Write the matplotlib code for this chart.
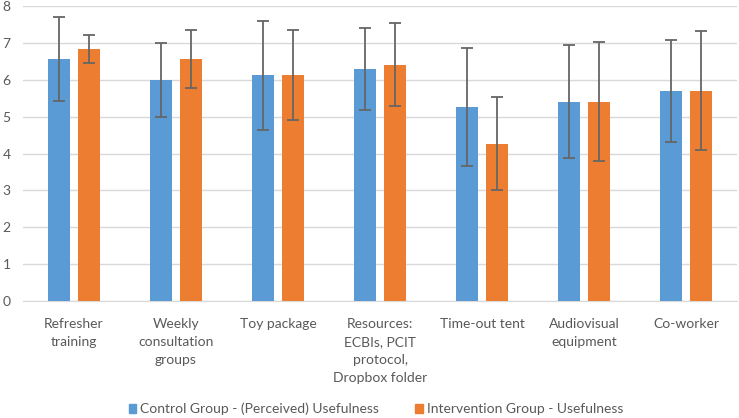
import numpy as np
import matplotlib.pyplot as plt
from matplotlib.patches import Patch

categories = ["Refresher\ntraining", "Weekly\nconsultation\ngroups", "Toy package",
              "Resources:\nECBIs, PCIT\nprotocol,\nDropbox folder", "Time-out tent",
              "Audiovisual\nequipment", "Co-worker"]
control_mean = [6.56, 6.00, 6.12, 6.28, 5.27, 5.41, 5.70]
control_err = [1.14, 1.00, 1.47, 1.11, 1.60, 1.52, 1.38]
interv_mean = [6.84, 6.56, 6.12, 6.41, 4.26, 5.41, 5.70]
interv_err = [0.38, 0.79, 1.22, 1.13, 1.26, 1.62, 1.61]
series_names = ["Control Group - (Perceived) Usefulness", "Intervention Group - Usefulness"]

blue = '#5B9BD5'
orange = '#ED7D31'
text_col = '#595959'

# Lato ~ Calibri metrics
plt.rcParams['font.family'] = ['Lato', 'DejaVu Sans']

fig = plt.figure(figsize=(7.39, 4.18), dpi=100)
ax = fig.add_axes([23 / 739, 1 - 301 / 418, 714 / 739, 295 / 418])

x = np.arange(len(categories))
w = 0.215
off = 0.143
err_kw = dict(ecolor='#666666', elinewidth=1.3, capsize=4, capthick=1.3)
ax.bar(x - off, control_mean, w, color=blue, yerr=control_err, error_kw=err_kw, zorder=3)
ax.bar(x + off, interv_mean, w, color=orange, yerr=interv_err, error_kw=err_kw, zorder=3)

ax.set_xlim(-0.5, len(categories) - 0.5)
ax.set_ylim(0, 8)
ax.set_yticks(range(0, 9))
ax.grid(axis='y', color='#D9D9D9', linewidth=1, zorder=0)
for s in ['top', 'right', 'left']:
    ax.spines[s].set_visible(False)
ax.spines['bottom'].set_color('#D9D9D9')
ax.tick_params(axis='both', length=0, colors=text_col, labelsize=10)
ax.tick_params(axis='y', pad=9)
ax.set_xticks(x)
ax.set_xticklabels(categories, linespacing=1.58)
ax.tick_params(axis='x', pad=12.5)

handles = [Patch(color=blue), Patch(color=orange)]
fig.legend(handles, series_names, loc='center', bbox_to_anchor=(376 / 739, 1 - 409 / 418),
           ncol=2, frameon=False, fontsize=10, labelcolor=text_col,
           handlelength=0.55, handleheight=0.55, handletextpad=0.3, columnspacing=2.6)

fig.savefig('out.png', dpi=100)
